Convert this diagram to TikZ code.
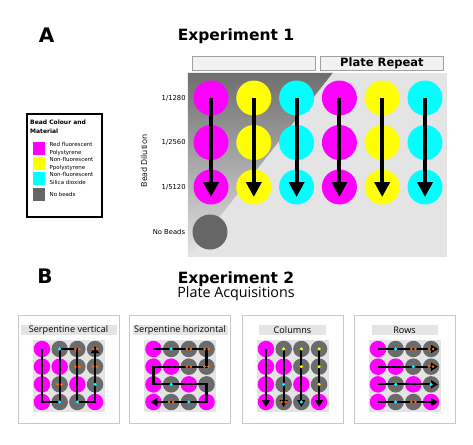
\documentclass[tikz,border=0pt]{standalone}
\usepackage{fontspec}
\setmainfont{DejaVu Sans}
\newfontfamily\opensans{Open Sans}
\usetikzlibrary{arrows.meta}
\usetikzlibrary{positioning}

\definecolor{beadmag}{HTML}{FF00FF}
\definecolor{beadyel}{HTML}{FFFF00}
\definecolor{beadcya}{HTML}{00FFFF}
\definecolor{beadgry}{HTML}{666666}
\definecolor{smallgry}{HTML}{6B6B6B}
\definecolor{plategry}{HTML}{E4E4E4}
\definecolor{shadetop}{HTML}{6E6E6E}
\definecolor{boxgry}{HTML}{F1F1F1}
\definecolor{headline}{HTML}{A0A0A0}
\definecolor{panelline}{HTML}{C8C8C8}
\definecolor{markorg}{HTML}{FF6A00}

\begin{document}
\begin{tikzpicture}[x=1pt,y=-1pt,
  big bead/.style={circle,inner sep=0pt,minimum size=35pt},
  small bead/.style={circle,inner sep=0pt,minimum size=16.5pt},
  big arrow/.style={line width=4pt,-{Triangle[length=15pt,width=15pt]},shorten >=-10pt},
  route/.style={line width=2.2pt,line join=miter},
  route tip/.style={-{Triangle[length=7pt,width=8pt]}},
  head box/.style={draw=headline,fill=boxgry,minimum width=123pt,minimum height=14pt,
    inner sep=0pt,font=\bfseries\fontsize{11.5}{13}\selectfont},
  letter/.style={inner sep=0pt,font=\bfseries\fontsize{20}{24}\selectfont},
  exp title/.style={inner sep=0pt,font=\bfseries\fontsize{15.5}{18}\selectfont},
  dil label/.style={inner sep=0pt,font=\fontsize{6.8}{8}\selectfont},
  swatch/.style={inner sep=0pt,minimum size=12.5pt},
  legend text/.style={inner sep=0pt,align=left,font=\fontsize{5.5}{8}\selectfont},
  panel/.style={draw=panelline,line width=0.9pt,fill=white,minimum width=101pt,minimum height=108pt},
  panel title/.style={fill=plategry,inner sep=0pt,minimum height=10pt,font=\opensans\fontsize{9.1}{10}\selectfont},
  orpair/.pic={\fill[markorg] (-2,0) circle (1.5) (2,0) circle (1.5);},
  cydot/.pic={\fill[beadcya] (0,0) circle (1.7);},
  yldot/.pic={\fill[beadyel] (0,0) circle (1.7);}]

  \useasboundingbox (0,0) rectangle (473,444);

  % part A
  \node[letter] (A) at (46.5,35.5) {A};
  \node[exp title] (exp1) at (236,36) {Experiment 1};
  \node[head box] (hdleft) at (253.5,63) {};
  \node[head box,right=5pt of hdleft] (hdright) {Plate Repeat};

  \node[fill=plategry,inner sep=0pt,minimum width=259pt,minimum height=184pt] (plate) at (317.5,165) {};
  \shade[top color=shadetop,bottom color=plategry]
    (plate.north west) -- ++(145,0) -- (plate.south west) -- cycle;

  \foreach \c/\col in {1/beadmag,2/beadyel,3/beadcya,4/beadmag,5/beadyel,6/beadcya}
    \foreach \r/\y in {1/98,2/142.5,3/187}
      \node[big bead,fill=\col] (a\r-\c) at ({211+42.8*(\c-1)},\y) {};
  \foreach \c in {1,...,6}
    \draw[big arrow] (a1-\c.center) -- (a3-\c.center);

  \node[big bead,fill=beadgry] (nobead) at (210,232) {};

  \node[dil label,left=7.5pt of a1-1] {1/1280};
  \node[dil label,left=7.5pt of a2-1] {1/2560};
  \node[dil label,left=7.5pt of a3-1] {1/5120};
  \node[dil label,left=7pt of nobead] {No Beads};
  \node[inner sep=0pt,rotate=90,font=\opensans\fontsize{8.3}{10}\selectfont] (dil) at (144,161) {Bead Dilution};

  % legend
  \node[draw,line width=1.8pt,minimum width=75pt,minimum height=103pt] (legend) at (64.5,165.5) {};
  \node[inner sep=0pt,anchor=north west,align=left,font=\bfseries\fontsize{6}{9}\selectfont]
    (legtitle) at (30,119.5) {Bead Colour and\\Material};
  \node[swatch,fill=beadmag] (sw1) at (39,148.5) {};
  \node[swatch,fill=beadyel] (sw2) at (39,163.5) {};
  \node[swatch,fill=beadcya] (sw3) at (39,178.5) {};
  \node[swatch,fill=beadgry] (sw4) at (39,194.5) {};
  \node[legend text,right=4pt of sw1] {Red fluorescent\\Polystyrene};
  \node[legend text,right=4pt of sw2] {Non-fluorescent\\Ppolystyrene};
  \node[legend text,right=4pt of sw3] {Non-fluorescent\\Silica dioxide};
  \node[legend text,right=4pt of sw4] {No beads};

  % part B
  \node[letter] (B) at (45,276.5) {B};
  \node[exp title] (exp2) at (236,279) {Experiment 2};
  \node[inner sep=0pt,below=0pt of exp2,font=\opensans\fontsize{14.3}{17}\selectfont] (acq) {Plate Acquisitions};

  \foreach \k/\cx/\bw/\ptitle in {1/68.5/96/Serpentine vertical,2/180/95/Serpentine horizontal,
                                  3/292.5/67/Columns,4/404.5/66/Rows} {
    \node[panel] (panel\k) at (\cx,369) {};
    \node[panel title,minimum width=\bw pt] (title\k) at (\cx,330) {\ptitle};
    \node[fill=plategry,minimum size=72pt,inner sep=0pt] (grid\k) at (\cx,375.5) {};
    \foreach \r in {1,...,4}
      \foreach \c in {1,...,4} {
        \pgfmathtruncatemacro\mag{(\c==1)||(\c==\r)}
        \ifnum\mag=1 \def\bcol{beadmag}\else\def\bcol{smallgry}\fi
        \node[small bead,fill=\bcol] (p\k-\r-\c) at ({\cx+17.7*(\c-2.5)},{349+17.67*(\r-1)}) {};
      }
  }

  % acquisition routes
  \draw[route,route tip,shorten >=-3pt] (p1-1-1.center) -- (p1-4-1.center) -- (p1-4-2.center)
    -- (p1-1-2.center) -- (p1-1-3.center) -- (p1-4-3.center) -- (p1-4-4.center) -- (p1-1-4.center);
  \draw[route,route tip,shorten >=-3pt] (p2-1-1.center) -- (p2-1-4.center) -- (p2-2-4.center)
    -- (p2-2-1.center) -- (p2-3-1.center) -- (p2-3-4.center) -- (p2-4-4.center) -- (p2-4-1.center);
  \foreach \c in {1,...,4}
    \draw[route,route tip,shorten >=-5pt] (p3-1-\c.center) -- (p3-4-\c.center);
  \foreach \r in {1,...,4}
    \draw[route,route tip,shorten >=-7pt] (p4-\r-1.center) -- (p4-\r-4.center);

  % marks on the wells
  \foreach \r/\c/\m in {1/2/cydot,1/3/orpair,1/4/orpair,2/3/orpair,2/4/orpair,3/2/orpair,3/4/cydot,4/2/cydot,4/3/cydot}
    \pic at (p1-\r-\c.center) {\m};
  \foreach \r/\c/\m in {1/2/cydot,1/3/orpair,1/4/orpair,2/3/orpair,2/4/orpair,3/2/cydot,4/2/orpair,4/3/cydot}
    \pic at (p2-\r-\c.center) {\m};
  \foreach \r/\c/\m in {1/2/yldot,1/3/yldot,1/4/yldot,2/3/yldot,2/4/yldot,3/2/cydot,3/4/yldot,4/2/orpair,4/3/cydot}
    \pic at (p3-\r-\c.center) {\m};
  \foreach \r/\c/\m in {1/2/cydot,1/3/orpair,1/4/orpair,2/3/cydot,2/4/orpair,3/2/cydot,3/4/cydot,4/2/cydot,4/3/orpair}
    \pic at (p4-\r-\c.center) {\m};

\end{tikzpicture}
\end{document}
